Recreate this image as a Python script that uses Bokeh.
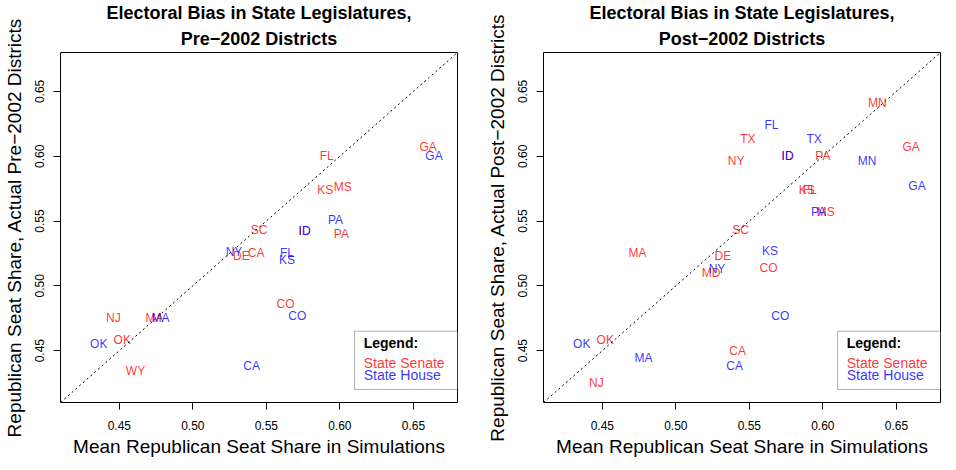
from bokeh.plotting import figure
from bokeh.models import ColumnDataSource, Range1d, FixedTicker, PrintfTickFormatter, Slope, BoxAnnotation, Label, Title
from bokeh.layouts import row
from bokeh.embed import file_html
from bokeh.resources import INLINE

# ---------------- data ----------------
# Pre-2002 districts
pre_senate_states = ["NJ", "MA", "OK", "WY", "SC", "DE", "CA", "ID", "PA", "KS", "MS", "FL", "GA", "CO"]
pre_senate_sim = [0.446, 0.474, 0.452, 0.461, 0.545, 0.533, 0.543, 0.576, 0.601, 0.590, 0.602, 0.591, 0.660, 0.563]
pre_senate_act = [0.475, 0.475, 0.458, 0.434, 0.543, 0.523, 0.525, 0.542, 0.540, 0.574, 0.576, 0.600, 0.607, 0.486]

pre_house_states = ["OK", "MA", "NY", "FL", "KS", "ID", "PA", "GA", "CO", "CA"]
pre_house_sim = [0.436, 0.478, 0.528, 0.564, 0.564, 0.576, 0.597, 0.664, 0.571, 0.540]
pre_house_act = [0.455, 0.475, 0.526, 0.525, 0.520, 0.542, 0.551, 0.600, 0.477, 0.438]

# Post-2002 districts
post_senate_states = ["MN", "TX", "GA", "NY", "ID", "PA", "KS", "FL", "MS", "SC", "MA", "DE", "CO", "MD", "OK", "CA", "NJ"]
post_senate_sim = [0.637, 0.549, 0.660, 0.541, 0.576, 0.600, 0.589, 0.591, 0.602, 0.544, 0.474, 0.532, 0.563, 0.524, 0.452, 0.542, 0.446]
post_senate_act = [0.641, 0.613, 0.607, 0.596, 0.600, 0.600, 0.574, 0.574, 0.557, 0.543, 0.525, 0.523, 0.514, 0.510, 0.458, 0.450, 0.425]

post_house_states = ["FL", "TX", "ID", "MN", "GA", "PA", "KS", "NY", "CO", "OK", "MA", "CA"]
post_house_sim = [0.565, 0.594, 0.576, 0.630, 0.664, 0.597, 0.564, 0.528, 0.571, 0.436, 0.478, 0.540]
post_house_act = [0.624, 0.613, 0.600, 0.596, 0.577, 0.557, 0.527, 0.513, 0.477, 0.455, 0.444, 0.438]

x_ticks = [0.45, 0.50, 0.55, 0.60, 0.65]
y_ticks = [0.45, 0.50, 0.55, 0.60, 0.65]

FONT = "Liberation Sans"
RED = "#FF0000"
BLUE = "#0000FF"
ALPHA = 0.8
XMIN, XMAX = 0.41, 0.68


def make_panel(title1, title2, ylabel, s_states, s_x, s_y, h_states, h_x, h_y, border_left, border_right):
    p = figure(frame_width=397, frame_height=350, output_backend="svg", toolbar_location=None,
               x_range=Range1d(XMIN, XMAX), y_range=Range1d(XMIN, XMAX),
               min_border_left=border_left, min_border_right=border_right,
               min_border_top=50, min_border_bottom=56,
               background_fill_color="white", border_fill_color="white")
    p.title.visible = False
    t2 = Title(text=title2, align="center", standoff=8)
    t1 = Title(text=title1, align="center", standoff=0)
    for t in (t2, t1):
        t.text_font = FONT
        t.text_font_size = "18px"
        t.text_font_style = "bold"
        t.text_color = "black"
        p.add_layout(t, "above")
    p.grid.visible = False
    p.outline_line_color = "black"
    p.outline_line_width = 1
    p.outline_line_alpha = 1

    for ax, tk in ((p.xaxis[0], x_ticks), (p.yaxis[0], y_ticks)):
        ax.ticker = FixedTicker(ticks=tk)
        ax.formatter = PrintfTickFormatter(format="%.2f")
        ax.axis_line_color = None
        ax.major_tick_in = 0
        ax.major_tick_out = 7
        ax.major_tick_line_color = "black"
        ax.minor_tick_line_color = None
        ax.major_label_text_font = FONT
        ax.major_label_text_font_size = "12px"
        ax.major_label_text_color = "black"
        ax.axis_label_text_font = FONT
        ax.axis_label_text_font_style = "normal"
        ax.axis_label_text_color = "black"
    p.xaxis.axis_label = "Mean Republican Seat Share in Simulations"
    p.xaxis.axis_label_text_font_size = "19px"
    p.yaxis.axis_label = ylabel
    p.yaxis.axis_label_text_font_size = "19px"
    p.xaxis.major_label_standoff = 11
    p.xaxis.axis_label_standoff = 3
    p.yaxis.major_label_orientation = "vertical"
    p.yaxis.major_label_standoff = 9
    p.yaxis.axis_label_standoff = 8

    p.add_layout(Slope(gradient=1, y_intercept=0, line_color="black", line_dash="2 3", line_width=1))

    src_s = ColumnDataSource(dict(x=s_x, y=s_y, t=s_states))
    src_h = ColumnDataSource(dict(x=h_x, y=h_y, t=h_states))
    p.text(x="x", y="y", text="t", source=src_s, text_align="center", text_baseline="middle",
           text_color=RED, text_alpha=ALPHA, text_font_size="12px", text_font={"value": FONT})
    p.text(x="x", y="y", text="t", source=src_h, text_align="center", text_baseline="middle",
           text_color=BLUE, text_alpha=ALPHA, text_font_size="12px", text_font={"value": FONT})

    # legend box
    p.add_layout(BoxAnnotation(left=0.610, right=0.680, bottom=0.420, top=0.465,
                               fill_color="white", fill_alpha=1, line_color="black", line_width=1))
    p.add_layout(Label(x=0.6162, y=0.4562, text="Legend:", text_font=FONT, text_font_size="14px",
                       text_font_style="bold", text_baseline="middle", text_color="black"))
    p.add_layout(Label(x=0.6162, y=0.4408, text="State Senate", text_font=FONT, text_font_size="14px",
                       text_baseline="middle", text_color=RED, text_alpha=ALPHA))
    p.add_layout(Label(x=0.6162, y=0.4310, text="State House", text_font=FONT, text_font_size="14px",
                       text_baseline="middle", text_color=BLUE, text_alpha=ALPHA))
    return p


p1 = make_panel("Electoral Bias in State Legislatures,", "Pre\u22122002 Districts",
                "Republican Seat Share, Actual Pre\u22122002 Districts",
                pre_senate_states, pre_senate_sim, pre_senate_act,
                pre_house_states, pre_house_sim, pre_house_act,
                border_left=58, border_right=6)
p2 = make_panel("Electoral Bias in State Legislatures,", "Post\u22122002 Districts",
                "Republican Seat Share, Actual Post\u22122002 Districts",
                post_senate_states, post_senate_sim, post_senate_act,
                post_house_states, post_house_sim, post_house_act,
                border_left=80, border_right=2)

layout = row(p1, p2)
open("out.html", "w").write(file_html(layout, INLINE))
